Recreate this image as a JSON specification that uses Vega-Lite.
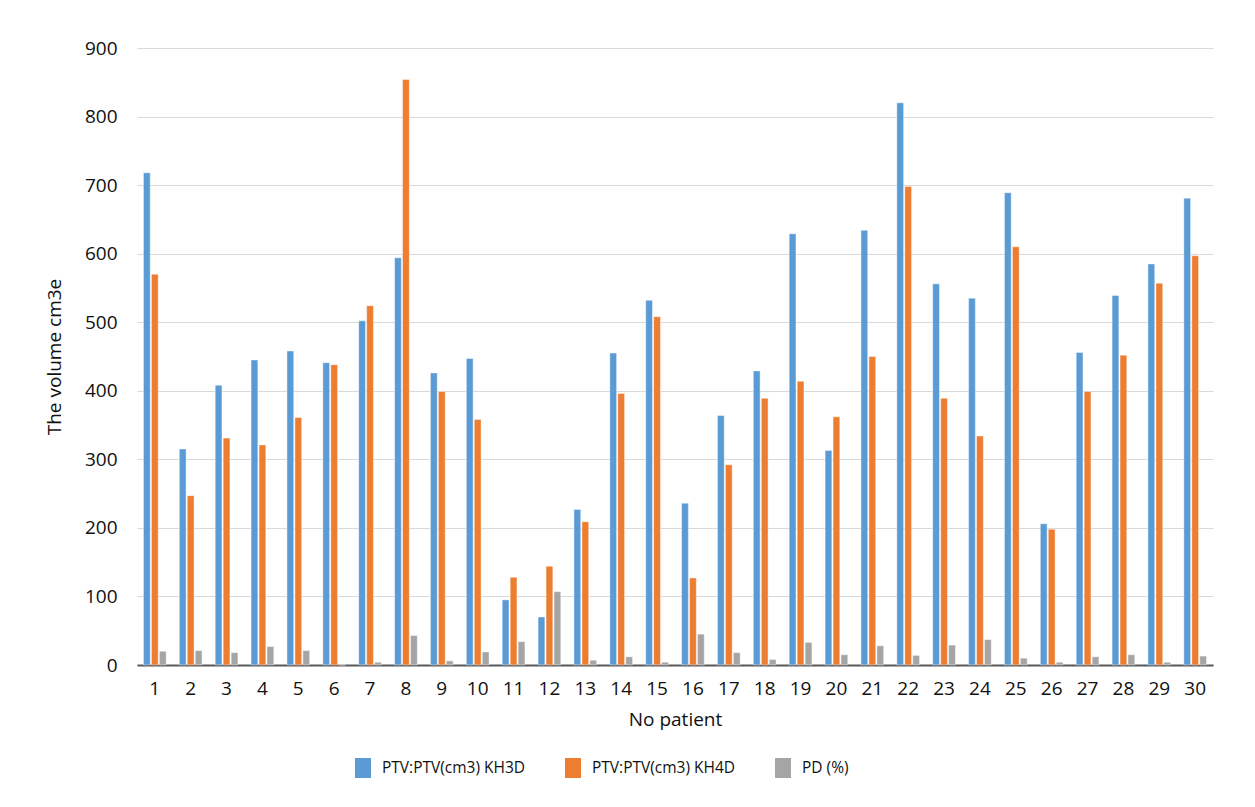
{
  "$schema": "https://vega.github.io/schema/vega-lite/v6.json",
  "autosize": {"type": "none"},
  "width": 1076,
  "height": 617,
  "padding": {"left": 137, "top": 48, "right": 42, "bottom": 142},
  "background": "white",
  "data": {"values": [
    {"p":1,"s":"PTV:PTV(cm3) KH3D","v":718},{"p":1,"s":"PTV:PTV(cm3) KH4D","v":570},{"p":1,"s":"PD (%)","v":20},
    {"p":2,"s":"PTV:PTV(cm3) KH3D","v":315},{"p":2,"s":"PTV:PTV(cm3) KH4D","v":247},{"p":2,"s":"PD (%)","v":21},
    {"p":3,"s":"PTV:PTV(cm3) KH3D","v":408},{"p":3,"s":"PTV:PTV(cm3) KH4D","v":331},{"p":3,"s":"PD (%)","v":18},
    {"p":4,"s":"PTV:PTV(cm3) KH3D","v":445},{"p":4,"s":"PTV:PTV(cm3) KH4D","v":321},{"p":4,"s":"PD (%)","v":27},
    {"p":5,"s":"PTV:PTV(cm3) KH3D","v":458},{"p":5,"s":"PTV:PTV(cm3) KH4D","v":361},{"p":5,"s":"PD (%)","v":21},
    {"p":6,"s":"PTV:PTV(cm3) KH3D","v":441},{"p":6,"s":"PTV:PTV(cm3) KH4D","v":438},{"p":6,"s":"PD (%)","v":0},
    {"p":7,"s":"PTV:PTV(cm3) KH3D","v":502},{"p":7,"s":"PTV:PTV(cm3) KH4D","v":524},{"p":7,"s":"PD (%)","v":4},
    {"p":8,"s":"PTV:PTV(cm3) KH3D","v":594},{"p":8,"s":"PTV:PTV(cm3) KH4D","v":854},{"p":8,"s":"PD (%)","v":43},
    {"p":9,"s":"PTV:PTV(cm3) KH3D","v":426},{"p":9,"s":"PTV:PTV(cm3) KH4D","v":399},{"p":9,"s":"PD (%)","v":6},
    {"p":10,"s":"PTV:PTV(cm3) KH3D","v":447},{"p":10,"s":"PTV:PTV(cm3) KH4D","v":358},{"p":10,"s":"PD (%)","v":19},
    {"p":11,"s":"PTV:PTV(cm3) KH3D","v":95},{"p":11,"s":"PTV:PTV(cm3) KH4D","v":128},{"p":11,"s":"PD (%)","v":34},
    {"p":12,"s":"PTV:PTV(cm3) KH3D","v":70},{"p":12,"s":"PTV:PTV(cm3) KH4D","v":144},{"p":12,"s":"PD (%)","v":107},
    {"p":13,"s":"PTV:PTV(cm3) KH3D","v":227},{"p":13,"s":"PTV:PTV(cm3) KH4D","v":209},{"p":13,"s":"PD (%)","v":7},
    {"p":14,"s":"PTV:PTV(cm3) KH3D","v":455},{"p":14,"s":"PTV:PTV(cm3) KH4D","v":396},{"p":14,"s":"PD (%)","v":12},
    {"p":15,"s":"PTV:PTV(cm3) KH3D","v":532},{"p":15,"s":"PTV:PTV(cm3) KH4D","v":508},{"p":15,"s":"PD (%)","v":4},
    {"p":16,"s":"PTV:PTV(cm3) KH3D","v":236},{"p":16,"s":"PTV:PTV(cm3) KH4D","v":127},{"p":16,"s":"PD (%)","v":45},
    {"p":17,"s":"PTV:PTV(cm3) KH3D","v":364},{"p":17,"s":"PTV:PTV(cm3) KH4D","v":292},{"p":17,"s":"PD (%)","v":18},
    {"p":18,"s":"PTV:PTV(cm3) KH3D","v":429},{"p":18,"s":"PTV:PTV(cm3) KH4D","v":389},{"p":18,"s":"PD (%)","v":8},
    {"p":19,"s":"PTV:PTV(cm3) KH3D","v":629},{"p":19,"s":"PTV:PTV(cm3) KH4D","v":414},{"p":19,"s":"PD (%)","v":33},
    {"p":20,"s":"PTV:PTV(cm3) KH3D","v":313},{"p":20,"s":"PTV:PTV(cm3) KH4D","v":362},{"p":20,"s":"PD (%)","v":15},
    {"p":21,"s":"PTV:PTV(cm3) KH3D","v":634},{"p":21,"s":"PTV:PTV(cm3) KH4D","v":450},{"p":21,"s":"PD (%)","v":28},
    {"p":22,"s":"PTV:PTV(cm3) KH3D","v":820},{"p":22,"s":"PTV:PTV(cm3) KH4D","v":698},{"p":22,"s":"PD (%)","v":14},
    {"p":23,"s":"PTV:PTV(cm3) KH3D","v":556},{"p":23,"s":"PTV:PTV(cm3) KH4D","v":389},{"p":23,"s":"PD (%)","v":29},
    {"p":24,"s":"PTV:PTV(cm3) KH3D","v":535},{"p":24,"s":"PTV:PTV(cm3) KH4D","v":334},{"p":24,"s":"PD (%)","v":37},
    {"p":25,"s":"PTV:PTV(cm3) KH3D","v":689},{"p":25,"s":"PTV:PTV(cm3) KH4D","v":610},{"p":25,"s":"PD (%)","v":10},
    {"p":26,"s":"PTV:PTV(cm3) KH3D","v":206},{"p":26,"s":"PTV:PTV(cm3) KH4D","v":198},{"p":26,"s":"PD (%)","v":4},
    {"p":27,"s":"PTV:PTV(cm3) KH3D","v":456},{"p":27,"s":"PTV:PTV(cm3) KH4D","v":399},{"p":27,"s":"PD (%)","v":12},
    {"p":28,"s":"PTV:PTV(cm3) KH3D","v":539},{"p":28,"s":"PTV:PTV(cm3) KH4D","v":452},{"p":28,"s":"PD (%)","v":15},
    {"p":29,"s":"PTV:PTV(cm3) KH3D","v":585},{"p":29,"s":"PTV:PTV(cm3) KH4D","v":557},{"p":29,"s":"PD (%)","v":4},
    {"p":30,"s":"PTV:PTV(cm3) KH3D","v":681},{"p":30,"s":"PTV:PTV(cm3) KH4D","v":597},{"p":30,"s":"PD (%)","v":13}
  ]},
  "mark": {"type": "bar", "stroke": "white", "strokeWidth": 0.6, "strokeOpacity": 0.7},
  "encoding": {
    "x": {
      "field": "p", "type": "ordinal", "sort": "ascending",
      "scale": {"paddingInner": 0.367, "paddingOuter": 0.18},
      "axis": {
        "title": "No patient", "labelAngle": 0, "ticks": false,
        "labelPadding": 14, "titlePadding": 12,
        "domainColor": "#595959", "domainWidth": 2,
        "labelFontSize": 19, "titleFontSize": 19,
        "labelColor": "#111111", "titleColor": "#111111",
        "labelFont": "Open Sans", "titleFont": "Open Sans", "titleFontWeight": "normal"
      }
    },
    "xOffset": {
      "field": "s", "type": "nominal",
      "sort": ["PTV:PTV(cm3) KH3D", "PTV:PTV(cm3) KH4D", "PD (%)"],
      "scale": {"paddingInner": 0.15, "paddingOuter": 0}
    },
    "y": {
      "field": "v", "type": "quantitative",
      "scale": {"domain": [0, 900], "nice": false},
      "axis": {
        "title": "The volume cm3e", "values": [0,100,200,300,400,500,600,700,800,900],
        "domain": false, "ticks": false, "labelPadding": 20, "titlePadding": 20,
        "gridColor": "#d9d9d9", "gridWidth": 1,
        "labelFontSize": 19, "titleFontSize": 19,
        "labelColor": "#111111", "titleColor": "#111111",
        "labelFont": "Open Sans", "titleFont": "Open Sans", "titleFontWeight": "normal"
      }
    },
    "color": {
      "field": "s", "type": "nominal",
      "sort": ["PTV:PTV(cm3) KH3D", "PTV:PTV(cm3) KH4D", "PD (%)"],
      "scale": {"domain": ["PTV:PTV(cm3) KH3D", "PTV:PTV(cm3) KH4D", "PD (%)"], "range": ["#5b9bd5", "#ed7d31", "#a5a5a5"]},
      "legend": {
        "title": null, "orient": "none", "direction": "horizontal",
        "legendX": 216, "legendY": 710, "padding": 0,
        "symbolType": "M-0.8,-1H0.8V1H-0.8Z", "symbolSize": 400, "symbolStrokeWidth": 0,
        "labelFontSize": 15.5, "labelFont": "Open Sans", "labelColor": "#111111",
        "labelOffset": 9, "columnPadding": 37, "labelLimit": 300
      }
    }
  },
  "config": {"view": {"stroke": null}}
}
